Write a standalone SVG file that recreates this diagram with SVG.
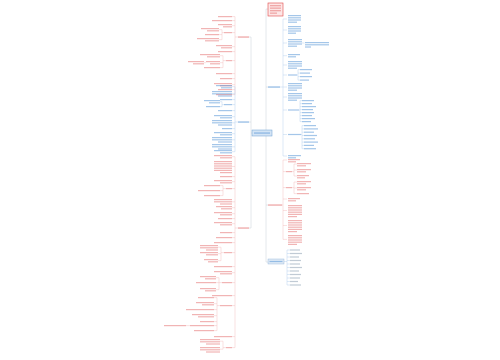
<svg xmlns="http://www.w3.org/2000/svg" width="500" height="360" viewBox="0 0 500 360">
<style>
.r{fill:#e46a6a;opacity:.5}
.b{fill:#4a8ed4;opacity:.5}
.g{fill:#8398ac;opacity:.5}
.cr{fill:none;stroke:#f4bcbc;stroke-width:.45}
.cb{fill:none;stroke:#b4d0ec;stroke-width:.45}
.ct{fill:none;stroke:#cdd6de;stroke-width:.55}
</style>
<rect width="500" height="360" fill="#fff"/>
<g id="connectors">
<path class="ct" d="M266 9 V262 M266 9 H268 M266 87 H268 M266 205 H268 M266 262 H268 M251 37 V228 M251 133 H252 M249 37 H251 M249 122 H251 M249 228 H251"/>
<path class="cb" d="M280 87 H283 M283 19 V156 M283 19 H287 M283 30 H287 M283 43 H287 M283 55.7 H287 M283 65 H287 M283 75 H287 M283 87 H287 M283 97 H287 M283 110 H287 M283 134.5 H287 M283 156 H287 M302 43 H304.5 M297 75 H298 M298 69.6 V80.1 M298 69.6 H300 M298 73.1 H300 M298 76.6 H300 M298 80.1 H300 M299 110 H300 M300 100.6 V121.6 M300 100.6 H302 M300 103.6 H302 M300 106.6 H302 M300 109.6 H302 M300 112.6 H302 M300 115.6 H302 M300 118.6 H302 M300 121.6 H302 M301 134.5 H302 M302 125.6 V148.7 M302 125.6 H304 M302 128.9 H304 M302 132.2 H304 M302 135.5 H304 M302 138.8 H304 M302 142.1 H304 M302 145.4 H304 M302 148.7 H304"/>
<path class="cr" d="M282 205 H283 M283 160 V239.4 M283 160 H287 M283 171.6 H286 M283 187.6 H286 M283 199 H287 M283 210.5 H287 M283 225.5 H287 M283 239.4 H287 M292 171.6 H294 M294 164 V176 M294 164 H297 M294 170 H297 M294 176 H297 M292 187.6 H294 M294 182 V193.6 M294 182 H297 M294 188 H297 M294 193.6 H297"/>
<path class="cb" d="M284 261.5 H287 M287 250 V285 M287 250 H290 M287 253.5 H290 M287 257 H290 M287 260.5 H290 M287 264 H290 M287 267.5 H290 M287 271 H290 M287 274.5 H290 M287 278 H290 M287 281.5 H290 M287 285 H290"/>
<path class="cr" d="M238 37 H235 M235 16.6 V94.6 M235 16.6 H232 M235 20.6 H232 M235 25.7 H232 M235 32.6 H232 M235 46.7 H232 M235 51.6 H232 M235 60.6 H232 M235 73.6 H232 M235 78.6 H232 M235 84.7 H232 M235 89.6 H232 M235 94.6 H232 M224 32.6 H222 M222 29.7 V39.7 M222 29.7 H219 M222 34.6 H219 M222 39.7 H219 M226 60.6 H223 M223 55.7 V67.6 M223 55.7 H220 M223 62.7 H220 M223 67.6 H220 M204 62.7 H206"/>
<path class="cb" d="M238 122 H235 M235 86.7 V151.7 M235 86.7 H232 M235 93.8 H232 M235 99.6 H232 M235 104.6 H232 M235 110.6 H232 M235 116.7 H232 M235 122.8 H232 M235 128.6 H232 M235 133.7 H232 M235 139.8 H232 M235 146.8 H232 M235 151.7 H232 M224 104.6 H222 M222 101.7 V106.6 M222 101.7 H220 M222 106.6 H220"/>
<path class="cr" d="M238 228 H235 M235 156.7 V347.6 M235 156.7 H232 M235 166.5 H232 M235 176.6 H232 M235 181.7 H232 M235 188.6 H232 M235 201.8 H232 M235 207.7 H232 M235 213.7 H232 M235 218.6 H232 M235 223.7 H232 M235 232.6 H232 M235 237.6 H232 M235 242.6 H232 M235 252.6 H232 M235 266.6 H232 M235 272.7 H232 M235 282.6 H232 M235 295.6 H232 M235 305.6 H232 M235 336.6 H232 M235 347.6 H232 M226 188.6 H223 M223 185.6 V195.6 M223 185.6 H220 M223 190.6 H220 M223 195.6 H220 M224 252.6 H221 M221 247.2 V260.7 M221 247.2 H218 M221 253.7 H218 M221 260.7 H218 M222 282.6 H219 M219 277.7 V289.7 M219 277.7 H216 M219 282.6 H216 M219 289.7 H216 M220 305.6 H217 M217 297.6 V330.6 M217 297.6 H214 M217 303.7 H214 M217 309.6 H214 M217 315.7 H214 M217 321.6 H214 M217 325.6 H214 M217 330.6 H214 M186 325.6 H190 M226 347.6 H223 M223 341.2 V349.2 M223 341.2 H220 M223 349.2 H220"/>
</g>
<g id="title">
<rect x="268" y="3" width="15" height="13" fill="#fde6e6" stroke="#e04848" stroke-width=".6"/>
<rect class="r" x="270" y="5" width="11" height="1.3"/><rect class="r" x="270" y="7.5" width="11" height="1.3"/><rect class="r" x="270" y="10" width="11" height="1.3"/><rect class="r" x="270" y="12.5" width="7" height="1.3"/>
</g>
<g id="center">
<rect x="252" y="130" width="20" height="6" fill="#d3e4f5" stroke="#6d9fd2" stroke-width=".5"/>
<rect class="b" x="254" y="132.4" width="16" height="1.3"/>
</g>
<g id="branch-right-upper">
<rect class="b" x="268" y="86.3" width="12" height="1.5"/>
<rect class="b" x="288" y="15" width="13" height="1.2"/><rect class="b" x="288" y="17.2" width="13" height="1.2"/><rect class="b" x="288" y="19.4" width="13" height="1.2"/><rect class="b" x="288" y="21.6" width="9" height="1.2"/>
<rect class="b" x="288" y="26" width="13" height="1.2"/><rect class="b" x="288" y="28.2" width="13" height="1.2"/><rect class="b" x="288" y="30.4" width="13" height="1.2"/><rect class="b" x="288" y="32.6" width="8" height="1.2"/>
<rect class="b" x="288" y="39" width="14" height="1.2"/><rect class="b" x="288" y="41.2" width="14" height="1.2"/><rect class="b" x="288" y="43.4" width="14" height="1.2"/><rect class="b" x="288" y="45.6" width="9" height="1.2"/>
<rect class="b" x="305" y="42" width="24" height="1.2"/><rect class="b" x="305" y="44.2" width="24" height="1.2"/><rect class="b" x="305" y="46.4" width="6" height="1.2"/>
<rect class="b" x="288" y="54" width="12" height="1.2"/><rect class="b" x="288" y="56.2" width="8" height="1.2"/>
<rect class="b" x="288" y="61" width="14" height="1.2"/><rect class="b" x="288" y="63.2" width="14" height="1.2"/><rect class="b" x="288" y="65.4" width="14" height="1.2"/><rect class="b" x="288" y="67.6" width="9" height="1.2"/>
<rect class="b" x="288" y="74.4" width="9" height="1.2"/>
<rect class="b" x="300" y="69" width="12" height="1.2"/><rect class="b" x="300" y="72.5" width="10" height="1.2"/><rect class="b" x="300" y="76" width="12" height="1.2"/><rect class="b" x="300" y="79.5" width="9" height="1.2"/>
<rect class="b" x="288" y="83" width="14" height="1.2"/><rect class="b" x="288" y="85.2" width="14" height="1.2"/><rect class="b" x="288" y="87.4" width="14" height="1.2"/><rect class="b" x="288" y="89.6" width="9" height="1.2"/>
<rect class="b" x="288" y="93" width="14" height="1.2"/><rect class="b" x="288" y="95.2" width="14" height="1.2"/><rect class="b" x="288" y="97.4" width="14" height="1.2"/><rect class="b" x="288" y="99.6" width="9" height="1.2"/>
<rect class="b" x="288" y="109.4" width="11" height="1.2"/>
<rect class="b" x="302" y="100" width="12" height="1.2"/><rect class="b" x="302" y="103" width="10" height="1.2"/><rect class="b" x="302" y="106" width="14" height="1.2"/><rect class="b" x="302" y="109" width="11" height="1.2"/><rect class="b" x="302" y="112" width="12" height="1.2"/><rect class="b" x="302" y="115" width="10" height="1.2"/><rect class="b" x="302" y="118" width="13" height="1.2"/><rect class="b" x="302" y="121" width="9" height="1.2"/>
<rect class="b" x="288" y="133.9" width="13" height="1.2"/>
<rect class="b" x="304" y="125" width="12" height="1.2"/><rect class="b" x="304" y="128.3" width="14" height="1.2"/><rect class="b" x="304" y="131.6" width="10" height="1.2"/><rect class="b" x="304" y="134.9" width="13" height="1.2"/><rect class="b" x="304" y="138.2" width="11" height="1.2"/><rect class="b" x="304" y="141.5" width="14" height="1.2"/><rect class="b" x="304" y="144.8" width="10" height="1.2"/><rect class="b" x="304" y="148.1" width="12" height="1.2"/>
<rect class="b" x="288" y="155" width="13" height="1.2"/><rect class="b" x="288" y="157.2" width="8" height="1.2"/>
</g>
<g id="branch-right-middle">
<rect class="r" x="268" y="204.3" width="14" height="1.5"/>
<rect class="r" x="288" y="159" width="12" height="1.2"/><rect class="r" x="288" y="161.2" width="8" height="1.2"/>
<rect class="r" x="286" y="171" width="6" height="1.2"/>
<rect class="r" x="297" y="163" width="14" height="1.2"/><rect class="r" x="297" y="165.2" width="9" height="1.2"/>
<rect class="r" x="297" y="169" width="14" height="1.2"/><rect class="r" x="297" y="171.2" width="9" height="1.2"/>
<rect class="r" x="297" y="175" width="12" height="1.2"/><rect class="r" x="297" y="177.2" width="8" height="1.2"/>
<rect class="r" x="286" y="187" width="6" height="1.2"/>
<rect class="r" x="297" y="181" width="14" height="1.2"/><rect class="r" x="297" y="183.2" width="9" height="1.2"/>
<rect class="r" x="297" y="187" width="14" height="1.2"/><rect class="r" x="297" y="189.2" width="9" height="1.2"/>
<rect class="r" x="297" y="193" width="12" height="1.2"/>
<rect class="r" x="288" y="198" width="12" height="1.2"/><rect class="r" x="288" y="200.2" width="8" height="1.2"/>
<rect class="r" x="288" y="205" width="14" height="1.2"/><rect class="r" x="288" y="207.2" width="14" height="1.2"/><rect class="r" x="288" y="209.4" width="14" height="1.2"/><rect class="r" x="288" y="211.6" width="14" height="1.2"/><rect class="r" x="288" y="213.8" width="14" height="1.2"/><rect class="r" x="288" y="216" width="9" height="1.2"/>
<rect class="r" x="288" y="220" width="14" height="1.2"/><rect class="r" x="288" y="222.2" width="14" height="1.2"/><rect class="r" x="288" y="224.4" width="14" height="1.2"/><rect class="r" x="288" y="226.6" width="14" height="1.2"/><rect class="r" x="288" y="228.8" width="14" height="1.2"/><rect class="r" x="288" y="231" width="9" height="1.2"/>
<rect class="r" x="288" y="235" width="14" height="1.2"/><rect class="r" x="288" y="237.2" width="14" height="1.2"/><rect class="r" x="288" y="239.4" width="14" height="1.2"/><rect class="r" x="288" y="241.6" width="14" height="1.2"/><rect class="r" x="288" y="243.8" width="9" height="1.2"/>
</g>
<g id="branch-right-lower">
<rect x="268" y="259" width="16" height="5" fill="#dfeaf6" stroke="#8ab0d8" stroke-width=".4"/>
<rect class="b" x="269.5" y="260.9" width="13" height="1.2"/>
<rect class="g" x="290" y="249.4" width="10" height="1.2"/><rect class="g" x="290" y="252.9" width="12" height="1.2"/><rect class="g" x="290" y="256.4" width="9" height="1.2"/><rect class="g" x="290" y="259.9" width="11" height="1.2"/><rect class="g" x="290" y="263.4" width="10" height="1.2"/><rect class="g" x="290" y="266.9" width="12" height="1.2"/><rect class="g" x="290" y="270.4" width="9" height="1.2"/><rect class="g" x="290" y="273.9" width="11" height="1.2"/><rect class="g" x="290" y="277.4" width="10" height="1.2"/><rect class="g" x="290" y="280.9" width="8" height="1.2"/><rect class="g" x="290" y="284.4" width="11" height="1.2"/>
</g>
<g id="branch-left-upper">
<rect class="r" x="238" y="36.3" width="11" height="1.5"/>
<rect class="r" x="218" y="16" width="14" height="1.2"/>
<rect class="r" x="212" y="20" width="20" height="1.2"/>
<rect class="r" x="218" y="24" width="14" height="1.2"/><rect class="r" x="223" y="26.2" width="9" height="1.2"/>
<rect class="r" x="224" y="32" width="8" height="1.2"/>
<rect class="r" x="201" y="28" width="18" height="1.2"/><rect class="r" x="207" y="30.2" width="12" height="1.2"/>
<rect class="r" x="205" y="34" width="14" height="1.2"/>
<rect class="r" x="197" y="38" width="22" height="1.2"/><rect class="r" x="205" y="40.2" width="14" height="1.2"/>
<rect class="r" x="216" y="45" width="16" height="1.2"/><rect class="r" x="221" y="47.2" width="11" height="1.2"/>
<rect class="r" x="218" y="51" width="14" height="1.2"/>
<rect class="r" x="226" y="60" width="6" height="1.2"/>
<rect class="r" x="200" y="54" width="20" height="1.2"/><rect class="r" x="207" y="56.2" width="13" height="1.2"/>
<rect class="r" x="206" y="61" width="14" height="1.2"/><rect class="r" x="210" y="63.2" width="10" height="1.2"/>
<rect class="r" x="188" y="61" width="16" height="1.2"/><rect class="r" x="193" y="63.2" width="11" height="1.2"/>
<rect class="r" x="204" y="67" width="16" height="1.2"/>
<rect class="r" x="216" y="73" width="16" height="1.2"/>
<rect class="r" x="220" y="78" width="12" height="1.2"/>
<rect class="r" x="214" y="83" width="18" height="1.2"/><rect class="r" x="220" y="85.2" width="12" height="1.2"/>
<rect class="r" x="218" y="89" width="14" height="1.2"/>
<rect class="r" x="216" y="94" width="16" height="1.2"/>
</g>
<g id="branch-left-middle">
<rect class="b" x="238" y="121.3" width="11" height="1.5"/>
<rect class="b" x="216" y="85" width="16" height="1.2"/><rect class="b" x="221" y="87.2" width="11" height="1.2"/>
<rect class="b" x="212" y="91" width="20" height="1.2"/><rect class="b" x="212" y="93.2" width="20" height="1.2"/><rect class="b" x="218" y="95.4" width="14" height="1.2"/>
<rect class="b" x="220" y="99" width="12" height="1.2"/>
<rect class="b" x="224" y="104" width="8" height="1.2"/>
<rect class="b" x="204" y="100" width="16" height="1.2"/><rect class="b" x="209" y="102.2" width="11" height="1.2"/>
<rect class="b" x="206" y="106" width="14" height="1.2"/>
<rect class="b" x="218" y="110" width="14" height="1.2"/>
<rect class="b" x="214" y="115" width="18" height="1.2"/><rect class="b" x="220" y="117.2" width="12" height="1.2"/>
<rect class="b" x="212" y="120" width="20" height="1.2"/><rect class="b" x="212" y="122.2" width="20" height="1.2"/><rect class="b" x="218" y="124.4" width="14" height="1.2"/>
<rect class="b" x="222" y="128" width="10" height="1.2"/>
<rect class="b" x="214" y="132" width="18" height="1.2"/><rect class="b" x="220" y="134.2" width="12" height="1.2"/>
<rect class="b" x="212" y="137" width="20" height="1.2"/><rect class="b" x="212" y="139.2" width="20" height="1.2"/><rect class="b" x="218" y="141.4" width="14" height="1.2"/>
<rect class="b" x="212" y="144" width="20" height="1.2"/><rect class="b" x="212" y="146.2" width="20" height="1.2"/><rect class="b" x="218" y="148.4" width="14" height="1.2"/>
<rect class="b" x="214" y="150" width="18" height="1.2"/><rect class="b" x="220" y="152.2" width="12" height="1.2"/>
</g>
<g id="branch-left-lower">
<rect class="r" x="238" y="227.3" width="11" height="1.5"/>
<rect class="r" x="214" y="155" width="18" height="1.2"/><rect class="r" x="220" y="157.2" width="12" height="1.2"/>
<rect class="r" x="214" y="161" width="18" height="1.2"/><rect class="r" x="214" y="163.2" width="18" height="1.2"/><rect class="r" x="214" y="165.4" width="18" height="1.2"/><rect class="r" x="214" y="167.6" width="18" height="1.2"/><rect class="r" x="214" y="169.8" width="18" height="1.2"/><rect class="r" x="220" y="172" width="12" height="1.2"/>
<rect class="r" x="220" y="176" width="12" height="1.2"/>
<rect class="r" x="214" y="180" width="18" height="1.2"/><rect class="r" x="220" y="182.2" width="12" height="1.2"/>
<rect class="r" x="226" y="188" width="6" height="1.2"/>
<rect class="r" x="204" y="185" width="16" height="1.2"/>
<rect class="r" x="198" y="190" width="22" height="1.2"/>
<rect class="r" x="204" y="195" width="16" height="1.2"/>
<rect class="r" x="214" y="199" width="18" height="1.2"/><rect class="r" x="214" y="201.2" width="18" height="1.2"/><rect class="r" x="220" y="203.4" width="12" height="1.2"/>
<rect class="r" x="216" y="206" width="16" height="1.2"/><rect class="r" x="221" y="208.2" width="11" height="1.2"/>
<rect class="r" x="214" y="212" width="18" height="1.2"/><rect class="r" x="220" y="214.2" width="12" height="1.2"/>
<rect class="r" x="218" y="218" width="14" height="1.2"/>
<rect class="r" x="214" y="222" width="18" height="1.2"/><rect class="r" x="220" y="224.2" width="12" height="1.2"/>
<rect class="r" x="220" y="232" width="12" height="1.2"/>
<rect class="r" x="216" y="237" width="16" height="1.2"/>
<rect class="r" x="214" y="242" width="18" height="1.2"/>
<rect class="r" x="224" y="252" width="8" height="1.2"/>
<rect class="r" x="200" y="245" width="18" height="1.2"/><rect class="r" x="200" y="247.2" width="18" height="1.2"/><rect class="r" x="206" y="249.4" width="12" height="1.2"/>
<rect class="r" x="200" y="252" width="18" height="1.2"/><rect class="r" x="206" y="254.2" width="12" height="1.2"/>
<rect class="r" x="204" y="259" width="14" height="1.2"/><rect class="r" x="208" y="261.2" width="10" height="1.2"/>
<rect class="r" x="214" y="266" width="18" height="1.2"/>
<rect class="r" x="214" y="271" width="18" height="1.2"/><rect class="r" x="220" y="273.2" width="12" height="1.2"/>
<rect class="r" x="222" y="282" width="10" height="1.2"/>
<rect class="r" x="200" y="276" width="16" height="1.2"/><rect class="r" x="205" y="278.2" width="11" height="1.2"/>
<rect class="r" x="196" y="282" width="20" height="1.2"/>
<rect class="r" x="200" y="288" width="16" height="1.2"/><rect class="r" x="205" y="290.2" width="11" height="1.2"/>
<rect class="r" x="212" y="295" width="20" height="1.2"/>
<rect class="r" x="220" y="305" width="12" height="1.2"/>
<rect class="r" x="198" y="297" width="16" height="1.2"/>
<rect class="r" x="196" y="302" width="18" height="1.2"/><rect class="r" x="202" y="304.2" width="12" height="1.2"/>
<rect class="r" x="186" y="309" width="28" height="1.2"/>
<rect class="r" x="192" y="314" width="22" height="1.2"/><rect class="r" x="198" y="316.2" width="16" height="1.2"/>
<rect class="r" x="200" y="321" width="14" height="1.2"/>
<rect class="r" x="190" y="325" width="24" height="1.2"/>
<rect class="r" x="164" y="325" width="22" height="1.2"/>
<rect class="r" x="194" y="330" width="20" height="1.2"/>
<rect class="r" x="214" y="336" width="18" height="1.2"/>
<rect class="r" x="226" y="347" width="6" height="1.2"/>
<rect class="r" x="200" y="339" width="20" height="1.2"/><rect class="r" x="200" y="341.2" width="20" height="1.2"/><rect class="r" x="206" y="343.4" width="14" height="1.2"/>
<rect class="r" x="200" y="347" width="20" height="1.2"/><rect class="r" x="200" y="349.2" width="20" height="1.2"/><rect class="r" x="206" y="351.4" width="14" height="1.2"/>
</g>
</svg>
